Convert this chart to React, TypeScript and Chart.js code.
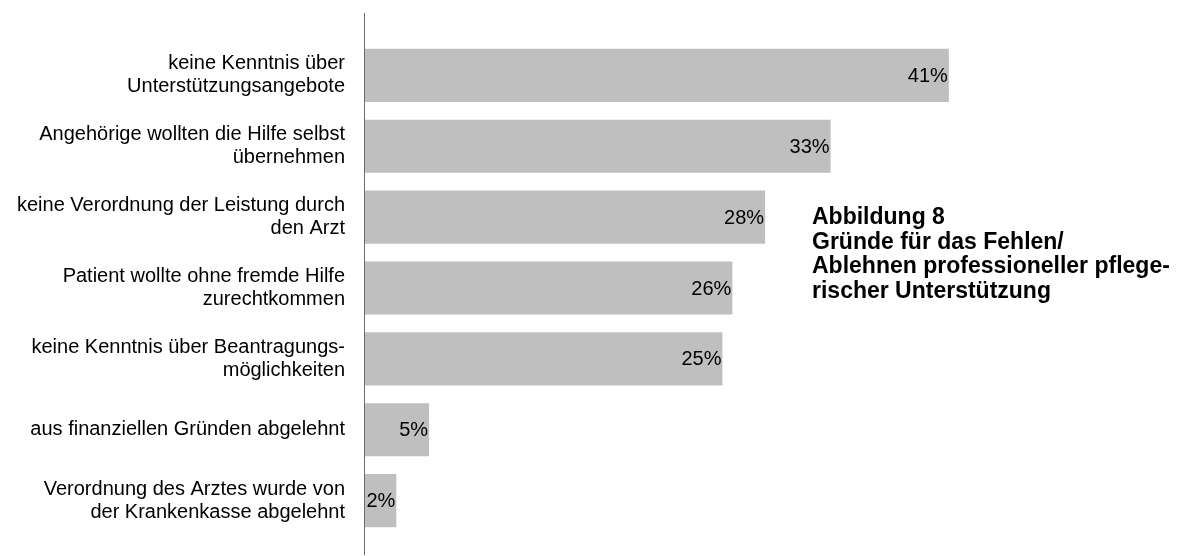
import React, { useEffect, useRef } from "react";
import { Chart, registerables } from "chart.js";

Chart.register(...registerables);

const categories: (string | string[])[] = [
  ["keine Kenntnis über", "Unterstützungsangebote"],
  ["Angehörige wollten die Hilfe selbst", "übernehmen"],
  ["keine Verordnung der Leistung durch", "den Arzt"],
  ["Patient wollte ohne fremde Hilfe", "zurechtkommen"],
  ["keine Kenntnis über Beantragungs-", "möglichkeiten"],
  "aus finanziellen Gründen abgelehnt",
  ["Verordnung des Arztes wurde von", "der Krankenkasse abgelehnt"],
];

const values: number[] = [41, 32.7, 28.1, 25.8, 25.1, 4.5, 2.2];
const valueLabels: string[] = ["41%", "33%", "28%", "26%", "25%", "5%", "2%"];

const titleLines: string[] = [
  "Abbildung 8",
  "Gründe für das Fehlen/",
  "Ablehnen professioneller pflege-",
  "rischer Unterstützung",
];

const FONT = "'Liberation Sans', Arial, Helvetica, sans-serif";

const extrasPlugin = {
  id: "extras",
  afterDatasetsDraw(chart: any) {
    const { ctx, chartArea } = chart;
    // axis line
    ctx.save();
    ctx.strokeStyle = "#6b6b6b";
    ctx.lineWidth = 1;
    ctx.beginPath();
    const x = Math.round(chartArea.left) - 0.5;
    ctx.moveTo(x, chartArea.top - 27);
    ctx.lineTo(x, chartArea.bottom + 19);
    ctx.stroke();
    // value labels
    const meta = chart.getDatasetMeta(0);
    ctx.fillStyle = "#000";
    ctx.font = `20px ${FONT}`;
    ctx.textAlign = "right";
    ctx.textBaseline = "middle";
    meta.data.forEach((bar: any, i: number) => {
      ctx.fillText(valueLabels[i], bar.x - 1, bar.y + 1);
    });
    ctx.restore();
  },
};

export default function App() {
  const ref = useRef<HTMLCanvasElement | null>(null);

  useEffect(() => {
    if (!ref.current) return;
    const chart = new Chart(ref.current, {
      type: "bar",
      data: {
        labels: categories,
        datasets: [
          {
            data: values,
            backgroundColor: "#bfbfbf",
            borderWidth: 0,
            barPercentage: 0.75,
            categoryPercentage: 1,
          },
        ],
      },
      options: {
        indexAxis: "y",
        animation: false,
        responsive: true,
        maintainAspectRatio: false,
        layout: { padding: { top: 40, bottom: 20, right: 118, left: 0 } },
        plugins: {
          legend: { display: false },
          tooltip: { enabled: false },
        },
        scales: {
          x: {
            display: false,
            min: 0,
            max: 50,
          },
          y: {
            grid: { display: false, drawTicks: false },
            border: { display: false },
            afterFit: (scale: any) => {
              scale.width = 365;
              scale.paddingTop = 0;
              scale.paddingBottom = 0;
            },
            ticks: {
              padding: 20,
              color: "#000",
              font: { family: FONT, size: 20, lineHeight: 1.15 },
            },
          },
        },
      },
      plugins: [extrasPlugin],
    });
    return () => chart.destroy();
  }, []);

  return (
    <div
      style={{
        position: "fixed",
        left: 0,
        top: 0,
        width: 1195,
        height: 556,
        background: "#fff",
      }}
    >
      <canvas ref={ref} />
      <div
        style={{
          position: "absolute",
          left: 812,
          top: 204,
          fontFamily: FONT,
          fontWeight: "bold",
          fontSize: 23,
          lineHeight: "24.5px",
          color: "#000",
          whiteSpace: "nowrap",
        }}
      >
        {titleLines.map((t, i) => (
          <div key={i}>{t}</div>
        ))}
      </div>
    </div>
  );
}
